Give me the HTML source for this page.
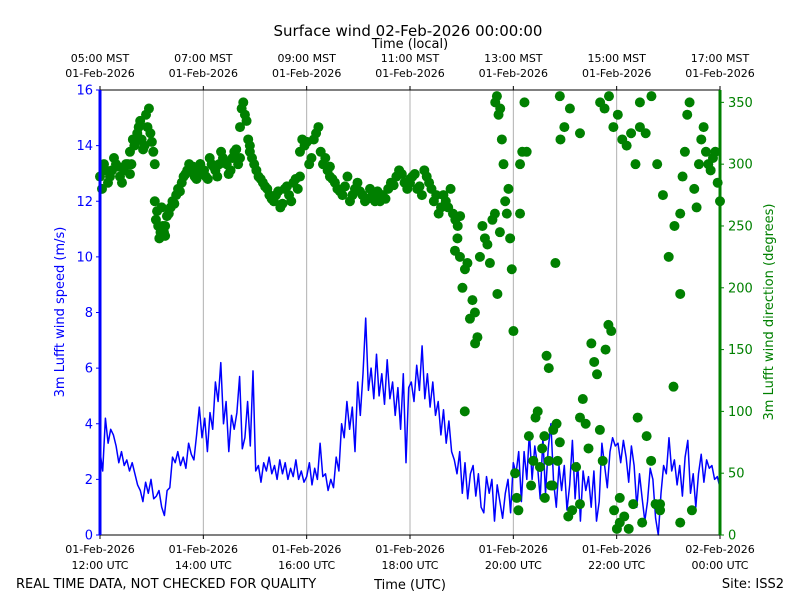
<!DOCTYPE html>
<html><head><meta charset="utf-8"><style>
body{margin:0;background:#fff;font-family:"DejaVu Sans","Liberation Sans",sans-serif}
svg text{font-family:"DejaVu Sans","Liberation Sans",sans-serif}
</style></head><body>
<svg id="c" width="800" height="600" xmlns="http://www.w3.org/2000/svg">
<rect width="800" height="600" fill="#fff"/>
<text x="408" y="36" font-size="15" text-anchor="middle">Surface wind 02-Feb-2026 00:00:00</text>
<text x="410" y="48" font-size="13" text-anchor="middle">Time (local)</text>
<text x="410" y="589" font-size="13" text-anchor="middle">Time (UTC)</text>
<text x="16" y="588" font-size="13">REAL TIME DATA, NOT CHECKED FOR QUALITY</text>
<text x="784" y="588" font-size="13" text-anchor="end">Site: ISS2</text>
<text transform="translate(64,312) rotate(-90)" font-size="13" fill="#0000ff" text-anchor="middle">3m Lufft wind speed (m/s)</text>
<text transform="translate(773,312) rotate(-90)" font-size="13" fill="#008000" text-anchor="middle">3m Lufft wind direction (degrees)</text>
<g id="grid"></g><g id="speed"></g><g id="dir"></g><g id="axes"></g>
</svg>
<script>
const speedValues=[3.0,2.3,4.2,3.3,3.8,3.6,3.2,2.6,3.0,2.5,2.7,2.3,2.6,2.2,1.8,1.6,1.2,1.9,1.5,2.0,1.3,1.4,1.6,1.0,0.7,1.6,1.7,2.8,2.6,3.0,2.5,2.8,2.4,3.3,2.9,2.7,3.6,4.6,3.5,4.2,3.0,4.4,3.8,5.5,4.8,6.2,4.0,4.8,3.0,4.3,3.8,4.4,5.7,3.1,3.5,4.8,3.2,5.9,2.3,2.5,1.9,2.6,2.3,2.8,2.2,2.5,2.0,2.7,2.2,2.6,2.0,2.4,2.1,2.7,2.0,2.3,1.9,2.1,2.6,1.8,2.4,2.0,3.3,2.1,2.2,1.6,2.0,1.7,2.8,2.3,4.0,3.5,4.8,3.8,4.6,3.0,5.5,4.3,5.8,7.8,5.2,6.0,4.9,6.5,5.0,5.8,4.7,6.3,4.9,5.5,4.3,5.3,3.8,5.8,2.6,5.3,5.5,4.8,6.1,5.2,6.8,4.9,5.8,4.6,5.5,4.3,4.8,3.6,4.5,3.3,4.1,3.0,2.7,2.2,3.0,1.5,2.6,1.3,2.2,2.5,1.4,2.2,1.0,0.8,2.1,1.5,2.0,0.5,1.8,1.2,0.6,1.5,2.0,0.8,2.6,2.2,3.0,1.2,3.0,2.0,3.7,2.0,3.2,2.5,1.3,3.5,1.5,3.1,4.0,1.9,1.0,2.5,1.6,2.5,0.9,1.8,3.4,1.3,2.6,0.5,2.3,1.6,2.1,1.0,2.3,0.5,1.2,3.3,2.5,1.7,3.0,3.5,3.2,3.3,2.6,3.4,2.8,1.9,3.2,2.5,1.0,2.2,1.3,0.5,1.2,2.4,2.0,0.6,0.0,1.5,2.5,2.2,3.5,2.3,2.7,1.8,2.5,1.4,2.8,3.4,1.5,2.2,1.0,2.2,2.9,1.9,2.7,2.4,2.5,2.0,2.1,1.7];
const speedStartHour=12, speedEndHour=24;
const dirSegStart=[12.0,12.58,13.06,13.26,13.94,14.71,14.90,15.87,16.45,17.42,18.0,18.87,19.06,19.26,19.65,20.13,20.61,20.9,21.29,21.68,22.06,22.45,22.84,23.1,23.23];
const dirSegEnd=[12.58,13.06,13.26,13.94,14.71,14.90,15.87,16.45,17.42,18.0,18.97,19.74,19.1,19.3,20.13,20.9,21.29,21.29,22.06,22.45,22.84,23.23,23.23,23.2,24.0];
const dirSegValues=[
[290,280,300,295,285,290,295,305,300,298,290,285,295,300,300,292],
[310,300,320,315,318,325,330,335,320,312,315,340,330,345,325,318,310,300],
[270,255,262,250,240,245,265,250,245,242],
[250,258,260,265,270,268,275,280,278,285,290,292,295,300,295,298,290,288,295,300],
[300,292,295,290,288,305,300,298,295,290,300,310,305,302,300,292,295,305,310,312,300,305],
[330,345,350,340,335,320,315],
[310,305,300,295,290,288,285,282,280,275,272,270,275,278,265,268,280,282,275,270,285,288,280,290],
[310,320,315,318,300,305,320,325,330,310,300,305,295,298],
[290,288,285,280,278,275,282,290,270,275,280,285,278,275,270,272,280,275,270,278,275],
[270,275,272,280,285,283,290,295,292,285,280,288],
[285,290,292,280,282,275,295,290,285,280,270,275,260,265,275,270,265,280,260,255,250,258],
[230,240,225,200,215,220,175,190,180,160,225,250,240,235,220,255,260,195,245],
[100],[155],
[350,355,340,345,320,300,270,260,280,240,215,165,50,30,20,260],
[300,310,350,310,80,40,60,95,100,55,70,80,145,135,40,85,220,60,75],
[30,60,40,90,320,330,15,20,55,25],
[355,345,325],
[95,110,90,70,155,140,130,85,60,150,170,165,20,5,10],
[350,345,355,330,340,320,315,325,300,350],
[30,15,5,25,95,10,80,60,25,20],
[330,325,355,300,275,225,250,195],
[25,10],[120],
[260,290,310,340,350,20,280,265,300,320,330,310,300,295,305,310,285,270]];
const speedTicks=[0,2,4,6,8,10,12,14,16];
const dirTicks=[0,50,100,150,200,250,300,350];
const utcLabels=[["01-Feb-2026","12:00 UTC"],["01-Feb-2026","14:00 UTC"],["01-Feb-2026","16:00 UTC"],["01-Feb-2026","18:00 UTC"],["01-Feb-2026","20:00 UTC"],["01-Feb-2026","22:00 UTC"],["02-Feb-2026","00:00 UTC"]];
const localLabels=[["05:00 MST","01-Feb-2026"],["07:00 MST","01-Feb-2026"],["09:00 MST","01-Feb-2026"],["11:00 MST","01-Feb-2026"],["13:00 MST","01-Feb-2026"],["15:00 MST","01-Feb-2026"],["17:00 MST","01-Feb-2026"]];
const tickHours=[12,14,16,18,20,22,24];

const L=100,R=720,T=90,B=535,NS="http://www.w3.org/2000/svg";
const xs=h=>L+(h-12)/12*(R-L);
const ys=v=>B-v/16*(B-T);
const yd=v=>B-v/360*(B-T);
function mk(tag,attrs,parent,txt){const e=document.createElementNS(NS,tag);for(const k in attrs)e.setAttribute(k,attrs[k]);if(txt!==undefined)e.textContent=txt;parent.appendChild(e);return e;}
const grid=document.getElementById('grid'),axes=document.getElementById('axes');
tickHours.forEach((h,i)=>{const x=xs(h);
 if(i>0&&i<tickHours.length-1){const g=mk('line',{x1:x,x2:x,y1:T,y2:B,stroke:'#b0b0b0','stroke-width':1},grid);}
 mk('line',{x1:x,x2:x,y1:B,y2:B+4,stroke:'#000'},axes);
 mk('line',{x1:x,x2:x,y1:T,y2:T-4,stroke:'#000'},axes);
 const t=mk('text',{x:x,y:B+18,'font-size':11,'text-anchor':'middle'},axes,utcLabels[i][0]);
 
 const t2=mk('text',{x:x,y:B+34,'font-size':11,'text-anchor':'middle'},axes,utcLabels[i][1]);
 
 const t3=mk('text',{x:x,y:T-28,'font-size':11,'text-anchor':'middle'},axes,localLabels[i][0]);
 
 const t4=mk('text',{x:x,y:T-13,'font-size':11,'text-anchor':'middle'},axes,localLabels[i][1]);
 
});
const n=speedValues.length;
const pts=speedValues.map((v,i)=>xs(speedStartHour+i*(speedEndHour-speedStartHour)/(n-1)).toFixed(1)+','+ys(v).toFixed(1)).join(' ');
const pl=mk('polyline',{points:pts,fill:'none',stroke:'#0000ff','stroke-width':1.5,'stroke-linejoin':'round'},document.getElementById('speed'));

const dg=document.getElementById('dir');
dirSegValues.forEach((vals,s)=>{const a=dirSegStart[s],b=dirSegEnd[s];
 vals.forEach((v,i)=>{const h=vals.length>1?a+i*(b-a)/(vals.length-1):a;
  const c=mk('circle',{cx:xs(h),cy:yd(v),r:5,fill:'#008000'},dg);
  });});
mk('line',{x1:L,x2:R,y1:T,y2:T,stroke:'#000'},axes);
mk('line',{x1:L,x2:R,y1:B,y2:B,stroke:'#000'},axes);
const ls=mk('line',{x1:L,x2:L,y1:T,y2:B,stroke:'#0000ff','stroke-width':3},axes);

const rs=mk('line',{x1:R,x2:R,y1:T,y2:B,stroke:'#008000','stroke-width':3},axes);

speedTicks.forEach(v=>{const y=ys(v);mk('line',{x1:L-4,x2:L,y1:y,y2:y,stroke:'#0000ff'},axes);
 const t=mk('text',{x:L-7,y:y+4.5,'font-size':13,'text-anchor':'end',fill:'#0000ff'},axes,v);
 });
dirTicks.forEach(v=>{const y=yd(v);mk('line',{x1:R,x2:R+4,y1:y,y2:y,stroke:'#008000'},axes);
 const t=mk('text',{x:R+8,y:y+4.5,'font-size':13,fill:'#008000'},axes,v);
 });
</script>
</body></html>
